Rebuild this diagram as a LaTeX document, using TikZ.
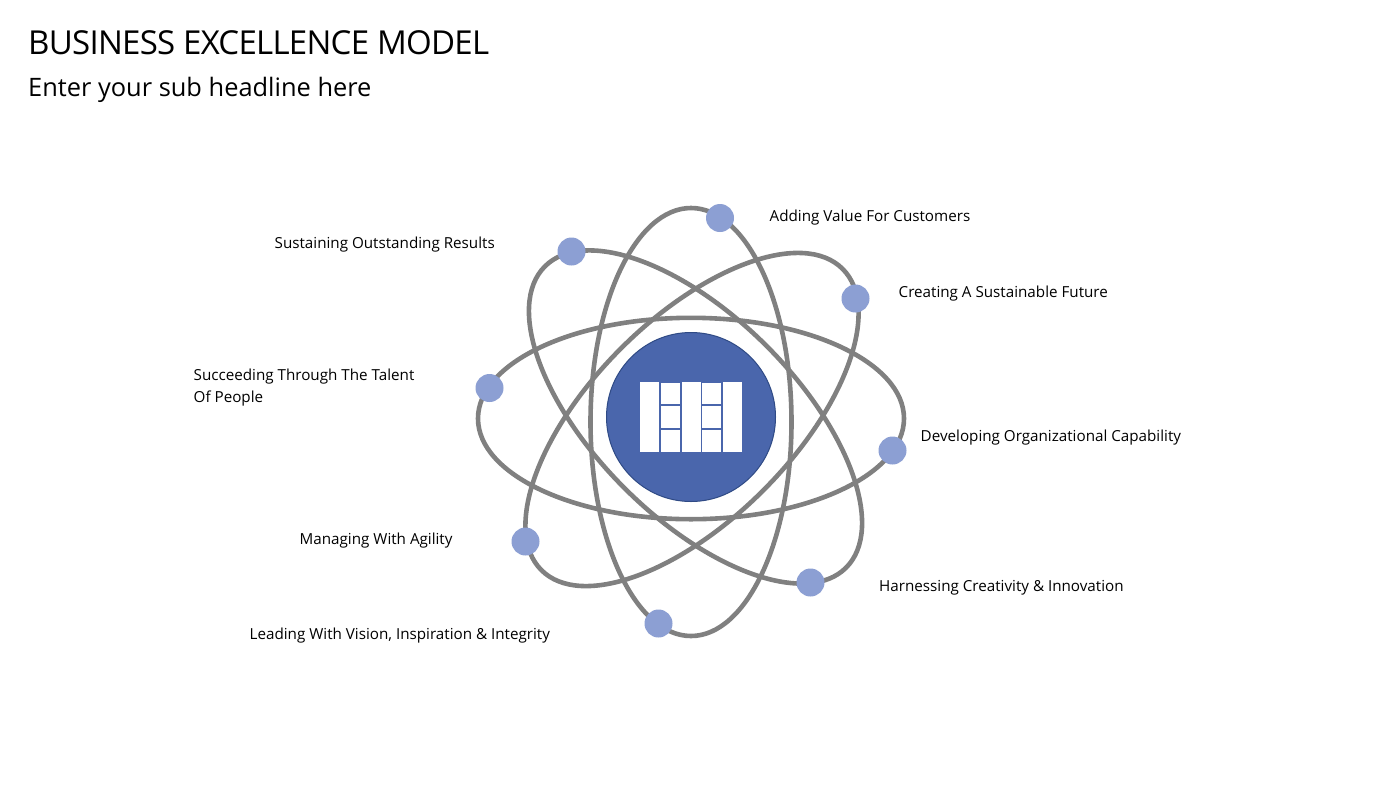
\documentclass[tikz,border=0pt]{standalone}
\usepackage{fontspec}
\setmainfont{Open Sans}
\newfontfamily\titlefont[LetterSpace=-2.2]{Open Sans}
\tikzset{
  orbit/.style={draw=orbitgray,line width=4.6pt},
  dot/.style={circle,fill=dotblue,draw=none,minimum size=28pt,inner sep=0pt},
  lab/.style={anchor=west,inner sep=0pt,align=left,font=\fontsize{15.2}{21.5}\selectfont,text=black},
  cell/.style={fill=white,draw=none},
}
\definecolor{orbitgray}{HTML}{808080}
\definecolor{dotblue}{HTML}{8C9FD3}
\definecolor{hubblue}{HTML}{4A66AC}
\definecolor{hubedge}{HTML}{2F4A85}
\begin{document}
\begin{tikzpicture}[x=1pt,y=-1pt]
\useasboundingbox (0,0) rectangle (1400,788);
\fill[white] (0,0) rectangle (1400,788);
\node[anchor=west,inner sep=0pt,font=\titlefont\fontsize{33}{38}\selectfont] (title) at (28,43) {BUSINESS EXCELLENCE MODEL};
\node[anchor=west,inner sep=0pt,font=\fontsize{25.4}{30}\selectfont] (sub) at (28,89.5) {Enter your sub headline here};
\draw[orbit] (691,418.5) ellipse[x radius=213,y radius=100.7];
\draw[orbit] (691,422) ellipse[x radius=100.5,y radius=214];
\draw[orbit] (695.5,417) ellipse[x radius=213,y radius=100.5,rotate=-45];
\draw[orbit] (692,419.5) ellipse[x radius=213,y radius=100.5,rotate=45];
\node[circle,fill=hubblue,draw=hubedge,line width=1pt,minimum size=169pt,inner sep=0pt] (hub) at (691,417) {};
\fill[cell] (640,381.5) rectangle (658.5,452);
\fill[cell] (661,382.5) rectangle (680,404);
\fill[cell] (661,406) rectangle (680,428);
\fill[cell] (661,430) rectangle (680,452);
\fill[cell] (681.5,381.5) rectangle (700.5,452);
\fill[cell] (702.3,382.5) rectangle (721,404);
\fill[cell] (702.3,406) rectangle (721,428);
\fill[cell] (702.3,430) rectangle (721,452);
\fill[cell] (722.7,381.5) rectangle (741.5,452);
\node[dot] (d1) at (720,218) {};
\node[dot] (d2) at (571.5,251.5) {};
\node[dot] (d3) at (855.5,298.5) {};
\node[dot] (d4) at (489.5,388) {};
\node[dot] (d5) at (892.5,450.5) {};
\node[dot] (d6) at (525.5,541.5) {};
\node[dot] (d7) at (810.5,582.5) {};
\node[dot] (d8) at (658.5,623.5) {};
\node[lab] (l1) at (769.5,218) {Adding Value For Customers};
\node[lab] (l2) at (274.5,245) {Sustaining Outstanding Results};
\node[lab] (l3) at (898.5,294) {Creating A Sustainable Future};
\node[lab] (l4) at (193.5,387.5) {Succeeding Through The Talent\\Of People};
\node[lab] (l5) at (920.5,437.5) {Developing Organizational Capability};
\node[lab] (l6) at (299.5,540.5) {Managing With Agility};
\node[lab] (l7) at (879,587.5) {Harnessing Creativity \& Innovation};
\node[lab] (l8) at (249.5,635.5) {Leading With Vision, Inspiration \& Integrity};
\end{tikzpicture}
\end{document}
